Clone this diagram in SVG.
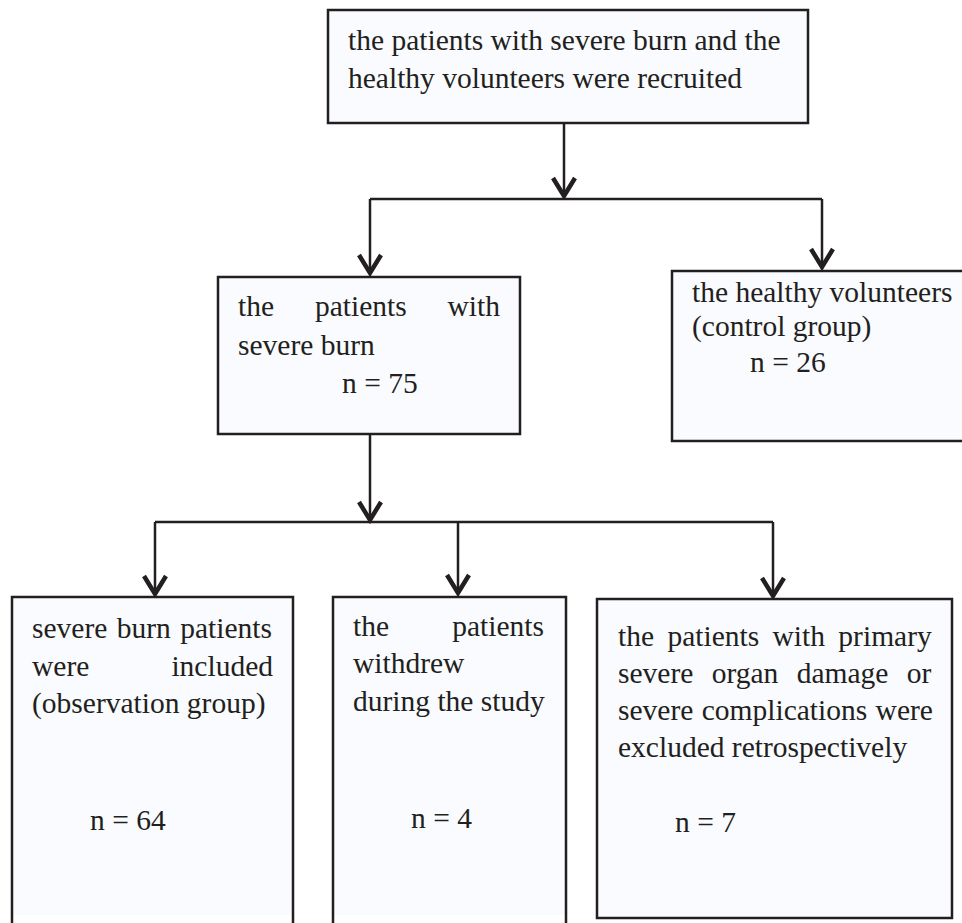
<svg xmlns="http://www.w3.org/2000/svg" width="962" height="923" viewBox="0 0 962 923">
  <style>
    .box { fill: #f9fbfe; stroke: #231f20; stroke-width: 2.5; }
    .fill { fill: #f9fbfe; stroke: none; }
    .edge { fill: none; stroke: #231f20; stroke-width: 2.5; }
    .conn { fill: none; stroke: #231f20; stroke-width: 2.5; }
    text { font-family: "Liberation Serif", "Times New Roman", serif; font-size: 29.5px; fill: #231f20; }
  </style>
  <defs>
    <marker id="chev" markerUnits="userSpaceOnUse" markerWidth="30" markerHeight="30" viewBox="-26 -15 30 30" refX="0" refY="0" orient="auto">
      <path d="M -19 -11 L -1 0 L -19 11" fill="none" stroke="#231f20" stroke-width="4.5" stroke-linejoin="miter"/>
    </marker>
  </defs>
  <rect width="962" height="923" fill="#ffffff"/>

  <g id="node-recruited">
    <rect class="box" x="328" y="10" width="480" height="113"/>
    <text x="348" y="50">the patients with severe burn and the</text>
    <text x="348" y="88">healthy volunteers were recruited</text>
  </g>

  <g id="node-burn">
    <rect class="box" x="218" y="277" width="302" height="157"/>
    <text x="238" y="316">the</text>
    <text x="315" y="316">patients</text>
    <text x="500" y="316" text-anchor="end">with</text>
    <text x="238" y="355">severe burn</text>
    <text x="342" y="393">n = 75</text>
  </g>

  <g id="node-healthy">
    <rect class="fill" x="672" y="271" width="292" height="170"/>
    <path class="edge" d="M 964 271 H 672 V 441 H 964"/>
    <text x="692" y="302">the healthy volunteers</text>
    <text x="692" y="336">(control group)</text>
    <text x="750" y="372">n = 26</text>
  </g>

  <g id="node-included">
    <rect class="fill" x="12" y="597" width="281" height="318"/>
    <path class="edge" d="M 12 923 V 597 H 293 V 923"/>
    <text x="32" y="638" word-spacing="2">severe burn patients</text>
    <text x="32" y="676">were</text>
    <text x="273" y="676" text-anchor="end">included</text>
    <text x="32" y="713">(observation group)</text>
    <text x="90" y="830">n = 64</text>
  </g>

  <g id="node-withdrew">
    <rect class="fill" x="333" y="597" width="233" height="318"/>
    <path class="edge" d="M 333 923 V 597 H 566 V 923"/>
    <text x="353" y="636">the</text>
    <text x="544" y="636" text-anchor="end">patients</text>
    <text x="353" y="673">withdrew</text>
    <text x="353" y="711">during the study</text>
    <text x="411" y="828">n = 4</text>
  </g>

  <g id="node-excluded">
    <rect class="box" x="597" y="599" width="355" height="319"/>
    <text x="618" y="646" word-spacing="6">the patients with primary</text>
    <text x="618" y="683" word-spacing="11">severe organ damage or</text>
    <text x="618" y="720" word-spacing="1">severe complications were</text>
    <text x="618" y="757">excluded retrospectively</text>
    <text x="675" y="832">n = 7</text>
  </g>

  <g id="connectors">
    <path class="conn" d="M 564 123 V 197" marker-end="url(#chev)"/>
    <path class="conn" d="M 370 199 H 822"/>
    <path class="conn" d="M 370 199 V 274" marker-end="url(#chev)"/>
    <path class="conn" d="M 822 199 V 268" marker-end="url(#chev)"/>
    <path class="conn" d="M 370 434 V 521" marker-end="url(#chev)"/>
    <path class="conn" d="M 155 522 H 773"/>
    <path class="conn" d="M 155 522 V 595" marker-end="url(#chev)"/>
    <path class="conn" d="M 458 522 V 594" marker-end="url(#chev)"/>
    <path class="conn" d="M 773 522 V 597" marker-end="url(#chev)"/>
  </g>
</svg>
